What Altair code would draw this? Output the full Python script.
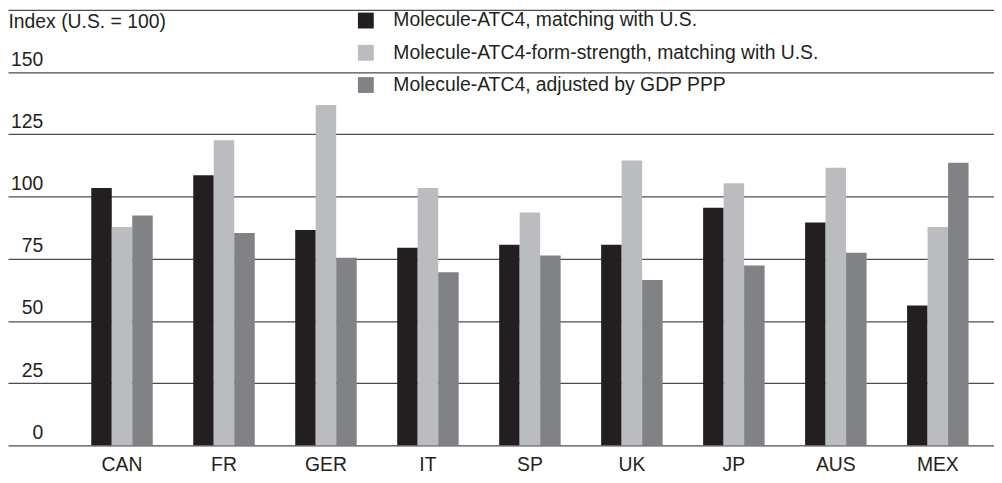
import altair as alt
import pandas as pd

countries = ["CAN", "FR", "GER", "IT", "SP", "UK", "JP", "AUS", "MEX"]
series = [
    "Molecule-ATC4, matching with U.S.",
    "Molecule-ATC4-form-strength, matching with U.S.",
    "Molecule-ATC4, adjusted by GDP PPP",
]
s1 = [103.4, 108.5, 86.5, 79.4, 80.6, 80.6, 95.5, 89.6, 56.2]
s2 = [87.7, 122.6, 136.8, 103.4, 93.6, 114.5, 105.3, 111.6, 87.7]
s3 = [92.4, 85.3, 75.4, 69.6, 76.3, 66.4, 72.3, 77.4, 113.6]
colors = ["#231f20", "#bbbcc0", "#808285"]
y_ticks = [0, 25, 50, 75, 100, 125, 150, 175]

rows = []
for name, vals in zip(series, [s1, s2, s3]):
    for c, v in zip(countries, vals):
        rows.append({"country": c, "series": name, "value": v})
df = pd.DataFrame(rows)

FONT = "Liberation Sans"
TXT = "#231f20"
FS = 19.5

chart = alt.Chart(df).mark_bar().encode(
    x=alt.X(
        "country:N",
        sort=countries,
        scale=alt.Scale(paddingInner=0.397, paddingOuter=0.533, align=0.766),
        axis=alt.Axis(
            title=None, ticks=False, domain=False, labelAngle=0,
            labelFontSize=FS, labelFont=FONT, labelColor=TXT, labelPadding=10,
        ),
    ),
    xOffset=alt.XOffset("series:N", sort=series, scale=alt.Scale(paddingInner=0, paddingOuter=0)),
    y=alt.Y(
        "value:Q",
        scale=alt.Scale(domain=[0, 175], nice=False),
        axis=alt.Axis(
            values=y_ticks, grid=True, gridColor="#4d4d4f", gridWidth=1.3, gridOpacity=1,
            ticks=False, tickSize=0, domain=False,
            labelAlign="right", labelPadding=-35, labelBaseline="alphabetic", labelOffset=-7,
            labelFontSize=FS, labelFont=FONT, labelColor=TXT,
            labelExpr="datum.value == 175 ? '' : datum.label",
            title="Index (U.S. = 100)", titleAngle=0, titleX=0, titleY=18,
            titleAlign="left", titleBaseline="alphabetic", titleFontWeight="normal",
            titleFontSize=FS, titleFont=FONT, titleColor=TXT,
        ),
    ),
    color=alt.Color(
        "series:N",
        sort=series,
        scale=alt.Scale(domain=series, range=colors),
        legend=alt.Legend(
            title=None, orient="none", legendX=351, legendY=1, direction="vertical",
            symbolType="square", symbolSize=256, symbolStrokeWidth=0, symbolOpacity=1,
            labelFontSize=FS, labelFont=FONT, labelColor=TXT, labelOffset=18,
            rowPadding=11.5, padding=0, labelLimit=600,
        ),
    ),
).properties(
    width=994, height=439, padding=0,
).configure_view(stroke=None)

chart.save("out.html", embed_options={"renderer": "svg", "actions": False})
